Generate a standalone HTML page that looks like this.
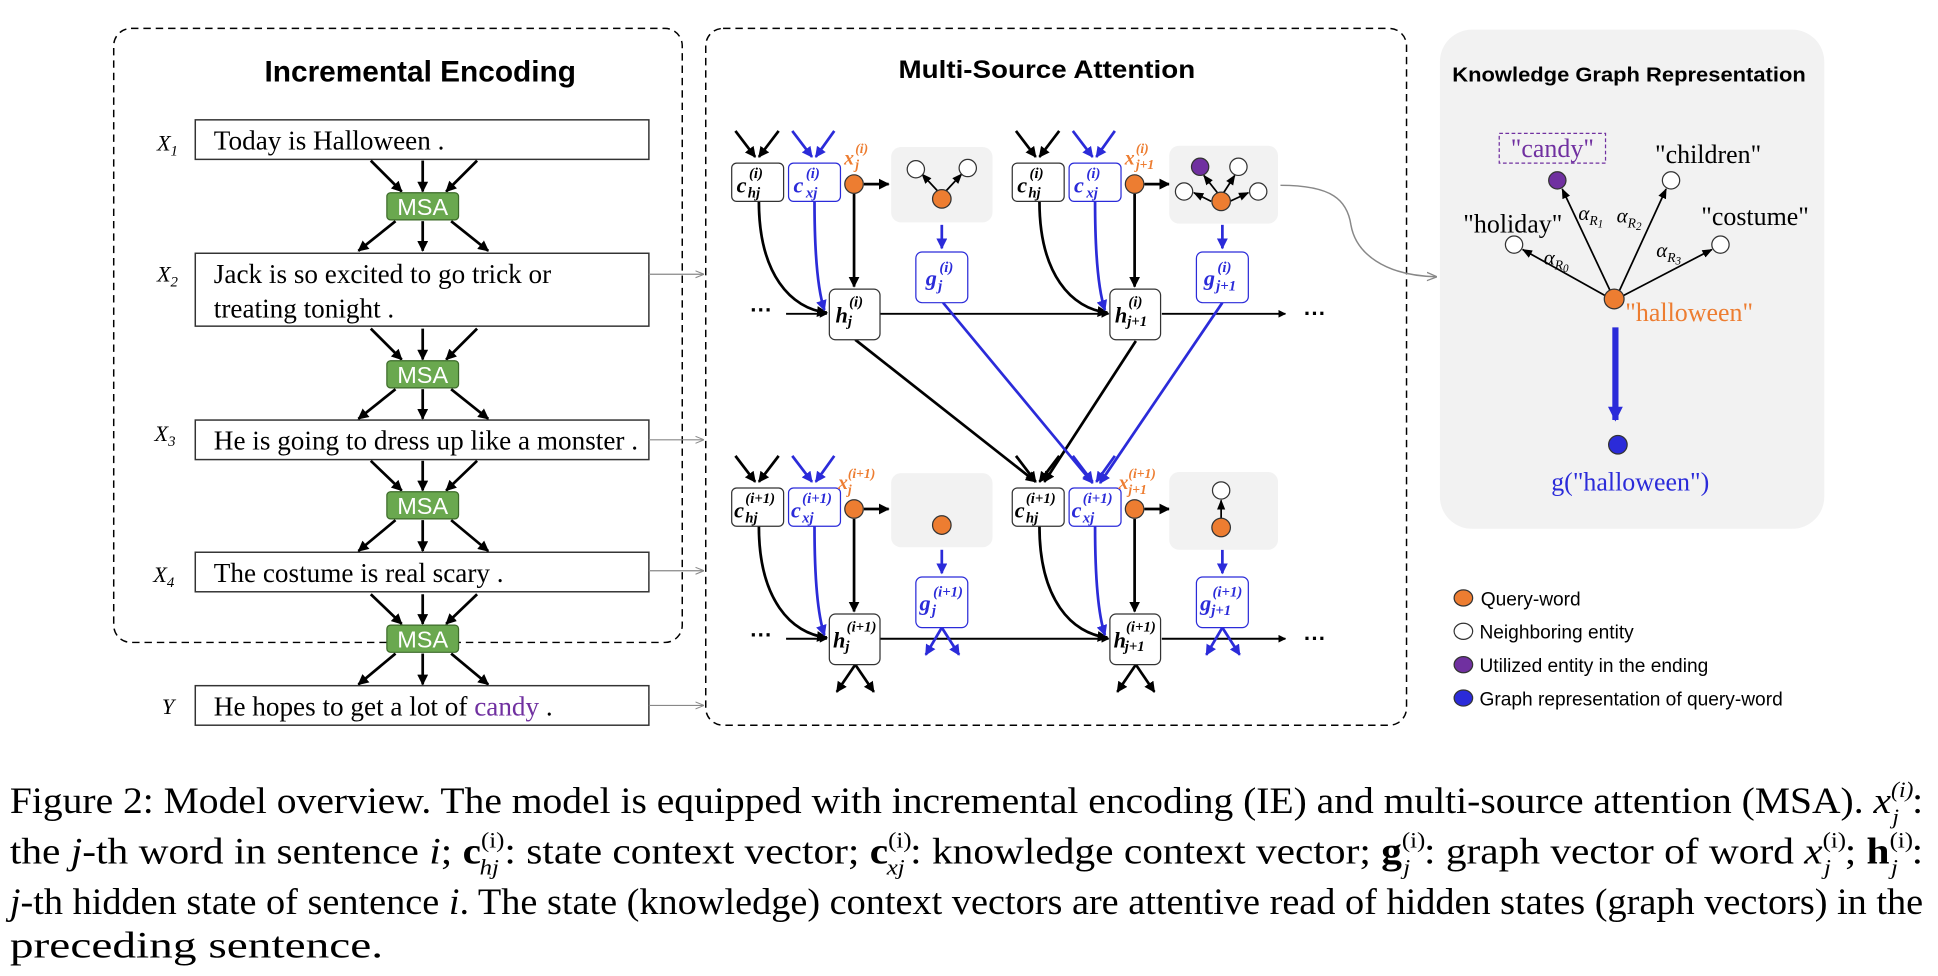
<!DOCTYPE html>
<html><head><meta charset="utf-8"><style>
html,body{margin:0;padding:0;background:#fff;}
svg{display:block;}
.serif{font-family:"Liberation Serif",serif;}
.sans{font-family:"Liberation Sans",sans-serif;}
</style></head><body>
<svg width="1938" height="976" viewBox="0 0 1568 790" preserveAspectRatio="none" xmlns="http://www.w3.org/2000/svg">
<defs>
<marker id="ab" viewBox="0 0 10 10" refX="9" refY="5" markerWidth="4" markerHeight="4" orient="auto"><path d="M0,0 L10,5 L0,10 z" fill="#000"/></marker>
<marker id="au" viewBox="0 0 10 10" refX="9" refY="5" markerWidth="4" markerHeight="4" orient="auto"><path d="M0,0 L10,5 L0,10 z" fill="#2b2bd9"/></marker>
<marker id="au2" viewBox="0 0 10 10" refX="9" refY="5" markerWidth="12" markerHeight="12" markerUnits="userSpaceOnUse" orient="auto"><path d="M0,0 L10,5 L0,10 z" fill="#2b2bd9"/></marker>
<marker id="ag" viewBox="0 0 10 10" refX="9" refY="5" markerWidth="7" markerHeight="7" orient="auto"><path d="M0,1 L10,5 L0,9" fill="none" stroke="#888" stroke-width="1.2"/></marker>
<marker id="at" viewBox="0 0 10 10" refX="9" refY="5" markerWidth="6" markerHeight="6" orient="auto"><path d="M0,1 L10,5 L0,9 z" fill="#000"/></marker>
</defs>

<rect x="92" y="23" width="460" height="497" rx="14" fill="none" stroke="#000" stroke-width="1.2" stroke-dasharray="6,4"/>
<text x="214" y="66" class="sans" font-weight="bold" font-size="24" textLength="252" lengthAdjust="spacingAndGlyphs">Incremental Encoding</text>

<g class="serif" font-size="22">
<rect x="158" y="97" width="367" height="32" fill="#fff" stroke="#333" stroke-width="1.2"/>
<text x="173" y="121">Today is Halloween .</text>
<rect x="158" y="205" width="367" height="59" fill="#fff" stroke="#333" stroke-width="1.2"/>
<text x="173" y="229">Jack is so excited to go trick or</text>
<text x="173" y="257">treating tonight .</text>
<rect x="158" y="340" width="367" height="32" fill="#fff" stroke="#333" stroke-width="1.2"/>
<text x="173" y="364">He is going to dress up like a monster .</text>
<rect x="158" y="447" width="367" height="32" fill="#fff" stroke="#333" stroke-width="1.2"/>
<text x="173" y="471">The costume is real scary .</text>
<rect x="158" y="555" width="367" height="32" fill="#fff" stroke="#333" stroke-width="1.2"/>
<text x="173" y="579">He hopes to get a lot of <tspan fill="#7030a0">candy</tspan> .</text>
</g>
<g class="serif" font-style="italic" font-size="18">
<text x="127" y="122">X<tspan font-size="12" dy="4">1</tspan></text>
<text x="127" y="228">X<tspan font-size="12" dy="4">2</tspan></text>
<text x="125" y="357">X<tspan font-size="12" dy="4">3</tspan></text>
<text x="124" y="471">X<tspan font-size="12" dy="4">4</tspan></text>
<text x="131" y="578">Y</text>
</g>

<g stroke="#000" stroke-width="2.2" fill="none" marker-end="url(#ab)">
<line x1="300" y1="130" x2="325" y2="155"/><line x1="342" y1="130" x2="342" y2="155"/><line x1="386" y1="130" x2="361" y2="155"/>
<line x1="320" y1="179" x2="290" y2="203"/><line x1="342" y1="179" x2="342" y2="203"/><line x1="365" y1="179" x2="395" y2="203"/>
<line x1="300" y1="266" x2="325" y2="291"/><line x1="342" y1="266" x2="342" y2="291"/><line x1="386" y1="266" x2="361" y2="291"/>
<line x1="320" y1="315" x2="290" y2="339"/><line x1="342" y1="315" x2="342" y2="339"/><line x1="365" y1="315" x2="395" y2="339"/>
<line x1="300" y1="373" x2="325" y2="397"/><line x1="342" y1="373" x2="342" y2="397"/><line x1="386" y1="373" x2="361" y2="397"/>
<line x1="320" y1="421" x2="290" y2="446"/><line x1="342" y1="421" x2="342" y2="446"/><line x1="365" y1="421" x2="395" y2="446"/>
<line x1="300" y1="481" x2="325" y2="505"/><line x1="342" y1="481" x2="342" y2="505"/><line x1="386" y1="481" x2="361" y2="505"/>
<line x1="320" y1="529" x2="290" y2="554"/><line x1="342" y1="529" x2="342" y2="554"/><line x1="365" y1="529" x2="395" y2="554"/>
</g>
<g class="sans" font-size="19" fill="#fff" text-anchor="middle">
<rect x="313" y="156" width="58" height="22" rx="3" fill="#6aa84f" stroke="#3d6b2a"/><text x="342" y="174">MSA</text>
<rect x="313" y="292" width="58" height="22" rx="3" fill="#6aa84f" stroke="#3d6b2a"/><text x="342" y="310">MSA</text>
<rect x="313" y="398" width="58" height="22" rx="3" fill="#6aa84f" stroke="#3d6b2a"/><text x="342" y="416">MSA</text>
<rect x="313" y="506" width="58" height="22" rx="3" fill="#6aa84f" stroke="#3d6b2a"/><text x="342" y="524">MSA</text>
</g>

<g stroke="#888" stroke-width="1" marker-end="url(#ag)">
<line x1="525" y1="222" x2="569" y2="222"/><line x1="525" y1="356" x2="569" y2="356"/>
<line x1="525" y1="462" x2="569" y2="462"/><line x1="525" y1="571" x2="569" y2="571"/>
</g>

<rect x="571" y="23" width="567" height="564" rx="14" fill="none" stroke="#000" stroke-width="1.2" stroke-dasharray="6,4"/>
<text x="727" y="63" class="sans" font-weight="bold" font-size="20" textLength="240" lengthAdjust="spacingAndGlyphs">Multi-Source Attention</text>

<g stroke="#000" stroke-width="1.6" marker-end="url(#ab)">
<line x1="636" y1="254" x2="669" y2="254"/><line x1="712" y1="254" x2="897" y2="254"/><line x1="940" y1="254" x2="1040" y2="254"/>
<line x1="636" y1="517" x2="669" y2="517"/><line x1="712" y1="517" x2="897" y2="517"/><line x1="940" y1="517" x2="1040" y2="517"/>
</g>
<g font-family="Liberation Sans" font-size="18" font-weight="bold">
<text x="607" y="257">···</text><text x="1055" y="260">···</text>
<text x="607" y="520">···</text><text x="1055" y="523">···</text>
</g>

<g stroke-width="2.2" fill="none">
<line x1="692" y1="275" x2="838" y2="390" stroke="#000" marker-end="url(#ab)"/>
<line x1="919" y1="276" x2="845" y2="390" stroke="#000" marker-end="url(#ab)"/>
<line x1="763" y1="245" x2="884" y2="391" stroke="#2b2bd9" marker-end="url(#au)"/>
<line x1="989" y1="245" x2="890" y2="391" stroke="#2b2bd9" marker-end="url(#au)"/>
</g>

<g>
<g transform="translate(0,0)">
 <g stroke="#000" stroke-width="2.2" marker-end="url(#ab)"><line x1="595" y1="106" x2="611" y2="127"/><line x1="630" y1="106" x2="614" y2="127"/><line x1="699" y1="149" x2="719" y2="149"/><line x1="691" y1="157" x2="691" y2="232"/></g>
 <g stroke="#2b2bd9" stroke-width="2.2" marker-end="url(#au)"><line x1="641" y1="106" x2="657" y2="127"/><line x1="675" y1="106" x2="660" y2="127"/><line x1="762" y1="182" x2="762" y2="201"/></g>
 <path d="M614,163 C614,222 640,250 669,253" fill="none" stroke="#000" stroke-width="2.2" marker-end="url(#ab)"/>
 <path d="M659,163 C659,210 662,236 667,251" fill="none" stroke="#2b2bd9" stroke-width="2.2" marker-end="url(#au)"/>
 <rect x="592" y="132" width="42" height="31" rx="4" fill="#fff" stroke="#333"/>
 <rect x="638" y="132" width="42" height="31" rx="4" fill="#fff" stroke="#2b2bd9"/>
 <rect x="721" y="119" width="82" height="61" rx="8" fill="#f2f2f2"/>
 <rect x="741" y="204" width="42" height="41" rx="5" fill="#fff" stroke="#2b2bd9"/>
 <rect x="671" y="234" width="41" height="41" rx="5" fill="#fff" stroke="#333"/>
 <circle cx="691" cy="149" r="7.5" fill="#ed7d31" stroke="#333"/>
</g>
<g transform="translate(227,0)">
 <g stroke="#000" stroke-width="2.2" marker-end="url(#ab)"><line x1="595" y1="106" x2="611" y2="127"/><line x1="630" y1="106" x2="614" y2="127"/><line x1="699" y1="149" x2="719" y2="149"/><line x1="691" y1="157" x2="691" y2="232"/></g>
 <g stroke="#2b2bd9" stroke-width="2.2" marker-end="url(#au)"><line x1="641" y1="106" x2="657" y2="127"/><line x1="675" y1="106" x2="660" y2="127"/><line x1="762" y1="182" x2="762" y2="201"/></g>
 <path d="M614,163 C614,222 640,250 669,253" fill="none" stroke="#000" stroke-width="2.2" marker-end="url(#ab)"/>
 <path d="M659,163 C659,210 662,236 667,251" fill="none" stroke="#2b2bd9" stroke-width="2.2" marker-end="url(#au)"/>
 <rect x="592" y="132" width="42" height="31" rx="4" fill="#fff" stroke="#333"/>
 <rect x="638" y="132" width="42" height="31" rx="4" fill="#fff" stroke="#2b2bd9"/>
 <rect x="719" y="118" width="88" height="63" rx="8" fill="#f2f2f2"/>
 <rect x="741" y="204" width="42" height="41" rx="5" fill="#fff" stroke="#2b2bd9"/>
 <rect x="671" y="234" width="41" height="41" rx="5" fill="#fff" stroke="#333"/>
 <circle cx="691" cy="149" r="7.5" fill="#ed7d31" stroke="#333"/>
</g>
<g transform="translate(0,263)">
 <g stroke="#000" stroke-width="2.2" marker-end="url(#ab)"><line x1="595" y1="106" x2="611" y2="127"/><line x1="630" y1="106" x2="614" y2="127"/><line x1="699" y1="149" x2="719" y2="149"/><line x1="691" y1="157" x2="691" y2="232"/><line x1="692" y1="275" x2="677" y2="297"/><line x1="692" y1="275" x2="707" y2="297"/></g>
 <g stroke="#2b2bd9" stroke-width="2.2" marker-end="url(#au)"><line x1="641" y1="106" x2="657" y2="127"/><line x1="675" y1="106" x2="660" y2="127"/><line x1="762" y1="182" x2="762" y2="201"/><line x1="762" y1="245" x2="749" y2="267"/><line x1="762" y1="245" x2="776" y2="267"/></g>
 <path d="M614,163 C614,222 640,250 669,253" fill="none" stroke="#000" stroke-width="2.2" marker-end="url(#ab)"/>
 <path d="M659,163 C659,210 662,236 667,251" fill="none" stroke="#2b2bd9" stroke-width="2.2" marker-end="url(#au)"/>
 <rect x="592" y="132" width="42" height="31" rx="4" fill="#fff" stroke="#333"/>
 <rect x="638" y="132" width="42" height="31" rx="4" fill="#fff" stroke="#2b2bd9"/>
 <rect x="721" y="120" width="82" height="60" rx="8" fill="#f2f2f2"/>
 <rect x="741" y="204" width="42" height="41" rx="5" fill="#fff" stroke="#2b2bd9"/>
 <rect x="671" y="234" width="41" height="41" rx="5" fill="#fff" stroke="#333"/>
 <circle cx="691" cy="149" r="7.5" fill="#ed7d31" stroke="#333"/>
</g>
<g transform="translate(227,263)">
 <g stroke="#000" stroke-width="2.2" marker-end="url(#ab)"><line x1="595" y1="106" x2="611" y2="127"/><line x1="630" y1="106" x2="614" y2="127"/><line x1="699" y1="149" x2="719" y2="149"/><line x1="691" y1="157" x2="691" y2="232"/><line x1="692" y1="275" x2="677" y2="297"/><line x1="692" y1="275" x2="707" y2="297"/></g>
 <g stroke="#2b2bd9" stroke-width="2.2" marker-end="url(#au)"><line x1="641" y1="106" x2="657" y2="127"/><line x1="675" y1="106" x2="660" y2="127"/><line x1="762" y1="182" x2="762" y2="201"/><line x1="762" y1="245" x2="749" y2="267"/><line x1="762" y1="245" x2="776" y2="267"/></g>
 <path d="M614,163 C614,222 640,250 669,253" fill="none" stroke="#000" stroke-width="2.2" marker-end="url(#ab)"/>
 <path d="M659,163 C659,210 662,236 667,251" fill="none" stroke="#2b2bd9" stroke-width="2.2" marker-end="url(#au)"/>
 <rect x="592" y="132" width="42" height="31" rx="4" fill="#fff" stroke="#333"/>
 <rect x="638" y="132" width="42" height="31" rx="4" fill="#fff" stroke="#2b2bd9"/>
 <rect x="719" y="119" width="88" height="63" rx="8" fill="#f2f2f2"/>
 <rect x="741" y="204" width="42" height="41" rx="5" fill="#fff" stroke="#2b2bd9"/>
 <rect x="671" y="234" width="41" height="41" rx="5" fill="#fff" stroke="#333"/>
 <circle cx="691" cy="149" r="7.5" fill="#ed7d31" stroke="#333"/>
</g>
</g>

<g stroke="#000" stroke-width="1.4" marker-end="url(#at)">
<line x1="759" y1="155" x2="746" y2="141"/><line x1="765" y1="155" x2="778" y2="141"/>
<line x1="985" y1="156" x2="974" y2="142"/><line x1="990" y1="156" x2="999" y2="142"/>
<line x1="980" y1="163" x2="966" y2="156"/><line x1="995" y1="163" x2="1010" y2="156"/>
<line x1="988" y1="420" x2="988" y2="405"/>
</g>
<g stroke="#333" stroke-width="1">
<circle cx="741" cy="137" r="7" fill="#fff"/><circle cx="783" cy="136" r="7" fill="#fff"/><circle cx="762" cy="161" r="7.5" fill="#ed7d31"/>
<circle cx="971" cy="135" r="7" fill="#7030a0"/><circle cx="1002" cy="135" r="7" fill="#fff"/>
<circle cx="958" cy="155" r="7" fill="#fff"/><circle cx="1018" cy="155" r="7" fill="#fff"/><circle cx="988" cy="163" r="7.5" fill="#ed7d31"/>
<circle cx="762" cy="425" r="7.5" fill="#ed7d31"/>
<circle cx="988" cy="397" r="7" fill="#fff"/><circle cx="988" cy="427" r="7.5" fill="#ed7d31"/>
</g>

<g class="serif" font-weight="bold" font-style="italic">
<g font-size="18" fill="#000">
<text x="596" y="156">c</text><text x="823" y="156">c</text>
<text x="594" y="419">c</text><text x="821" y="419">c</text>
<text x="676" y="261">h</text><text x="902" y="261">h</text>
<text x="674" y="524">h</text><text x="901" y="524">h</text>
</g>
<g font-size="12" fill="#000">
<text x="606" y="144">(i)</text><text x="605" y="160">hj</text>
<text x="833" y="144">(i)</text><text x="832" y="160">hj</text>
<text x="603" y="407">(i+1)</text><text x="603" y="423">hj</text>
<text x="830" y="407">(i+1)</text><text x="830" y="423">hj</text>
<text x="687" y="248">(i)</text><text x="686" y="264">j</text>
<text x="913" y="248">(i)</text><text x="912" y="264">j+1</text>
<text x="685" y="511">(i+1)</text><text x="684" y="527">j</text>
<text x="911" y="511">(i+1)</text><text x="910" y="527">j+1</text>
</g>
<g font-size="18" fill="#2b2bd9">
<text x="642" y="156">c</text><text x="869" y="156">c</text>
<text x="640" y="419">c</text><text x="867" y="419">c</text>
<text x="749" y="231">g</text><text x="974" y="231">g</text>
<text x="744" y="494">g</text><text x="971" y="494">g</text>
</g>
<g font-size="12" fill="#2b2bd9">
<text x="652" y="144">(i)</text><text x="652" y="160">xj</text>
<text x="649" y="407">(i+1)</text><text x="649" y="423">xj</text>
<text x="879" y="144">(i)</text><text x="879" y="160">xj</text>
<text x="876" y="407">(i+1)</text><text x="876" y="423">xj</text>
<text x="760" y="220">(i)</text><text x="759" y="235">j</text>
<text x="985" y="220">(i)</text><text x="984" y="235">j+1</text>
<text x="755" y="483">(i+1)</text><text x="754" y="498">j</text>
<text x="981" y="483">(i+1)</text><text x="980" y="498">j+1</text>
</g>
<g fill="#ed7d31">
<text x="683" y="133" font-size="16">x</text><text x="692" y="124" font-size="11">(i)</text><text x="692" y="137" font-size="11">j</text>
<text x="910" y="133" font-size="16">x</text><text x="919" y="124" font-size="11">(i)</text><text x="919" y="137" font-size="11">j+1</text>
<text x="678" y="396" font-size="16">x</text><text x="686" y="387" font-size="11">(i+1)</text><text x="686" y="400" font-size="11">j</text>
<text x="905" y="396" font-size="16">x</text><text x="913" y="387" font-size="11">(i+1)</text><text x="913" y="400" font-size="11">j+1</text>
</g>
</g>

<path d="M1036,150 C1078,150 1090,162 1093,182 C1097,205 1120,223 1162,224" fill="none" stroke="#888" stroke-width="1.2" marker-end="url(#ag)"/>

<rect x="1165" y="24" width="311" height="404" rx="26" fill="#f2f2f2"/>
<text x="1175" y="66" class="sans" font-weight="bold" font-size="16.5" textLength="286" lengthAdjust="spacingAndGlyphs">Knowledge Graph Representation</text>
<rect x="1213" y="108" width="86" height="24" fill="none" stroke="#7030a0" stroke-width="1" stroke-dasharray="3,2"/>
<g class="serif" font-size="21">
<text x="1256" y="127" text-anchor="middle" fill="#7030a0">"candy"</text>
<text x="1382" y="132" text-anchor="middle">"children"</text>
<text x="1224" y="188" text-anchor="middle">"holiday"</text>
<text x="1420" y="182" text-anchor="middle">"costume"</text>
<text x="1315" y="260" fill="#ed7d31">"halloween"</text>
<text x="1319" y="397" text-anchor="middle" fill="#2b2bd9">g("halloween")</text>
</g>
<g stroke="#000" stroke-width="1.4" marker-end="url(#at)">
<line x1="1304" y1="238" x2="1264" y2="153"/>
<line x1="1309" y1="238" x2="1348" y2="153"/>
<line x1="1300" y1="240" x2="1232" y2="202"/>
<line x1="1312" y1="240" x2="1385" y2="202"/>
</g>
<g stroke="#333" stroke-width="1">
<circle cx="1260" cy="146" r="7" fill="#7030a0"/>
<circle cx="1352" cy="146" r="7" fill="#fff"/>
<circle cx="1225" cy="198" r="7" fill="#fff"/>
<circle cx="1392" cy="198" r="7" fill="#fff"/>
<circle cx="1306" cy="242" r="8" fill="#ed7d31"/>
<circle cx="1309" cy="360" r="7.5" fill="#2b2bd9"/>
</g>
<line x1="1307" y1="265" x2="1307" y2="340" stroke="#2b2bd9" stroke-width="5" marker-end="url(#au2)"/>
<g class="serif" font-style="italic" font-size="17">
<text x="1277" y="178">α<tspan font-size="11" dy="4">R</tspan><tspan font-size="9" dy="2">1</tspan></text>
<text x="1308" y="180">α<tspan font-size="11" dy="4">R</tspan><tspan font-size="9" dy="2">2</tspan></text>
<text x="1249" y="214">α<tspan font-size="11" dy="4">R</tspan><tspan font-size="9" dy="2">0</tspan></text>
<text x="1340" y="208">α<tspan font-size="11" dy="4">R</tspan><tspan font-size="9" dy="2">3</tspan></text>
</g>

<g stroke="#333" stroke-width="1">
<ellipse cx="1184" cy="484" rx="7.5" ry="6.5" fill="#ed7d31"/>
<ellipse cx="1184" cy="511" rx="7.5" ry="6.5" fill="#fff"/>
<ellipse cx="1184" cy="538" rx="7.5" ry="6.5" fill="#7030a0"/>
<ellipse cx="1184" cy="565" rx="7.5" ry="6.5" fill="#2b2bd9"/>
</g>
<g class="sans" font-size="15.5">
<text x="1198" y="490">Query-word</text>
<text x="1197" y="517">Neighboring entity</text>
<text x="1197" y="544">Utilized entity in the ending</text>
<text x="1197" y="571">Graph representation of query-word</text>
</g>

<g class="serif" font-size="30">
<text x="8" y="658" textLength="1548" lengthAdjust="spacingAndGlyphs">Figure 2: Model overview. The model is equipped with incremental encoding (IE) and multi-source attention (MSA). <tspan font-style="italic">x</tspan><tspan font-size="18" dy="-13" font-style="italic">(i)</tspan><tspan font-size="18" dx="-16" dy="22" font-style="italic">j</tspan><tspan dy="-9" dx="10">:</tspan></text>
<text x="8" y="699" textLength="1548" lengthAdjust="spacingAndGlyphs">the <tspan font-style="italic">j</tspan>-th word in sentence <tspan font-style="italic">i</tspan>; <tspan font-weight="bold">c</tspan><tspan font-size="18" dy="-13">(i)</tspan><tspan font-size="18" dx="-18" dy="22" font-style="italic">hj</tspan><tspan dy="-9" dx="4">: state context vector; </tspan><tspan font-weight="bold">c</tspan><tspan font-size="18" dy="-13">(i)</tspan><tspan font-size="18" dx="-18" dy="22" font-style="italic">xj</tspan><tspan dy="-9" dx="4">: knowledge context vector; </tspan><tspan font-weight="bold">g</tspan><tspan font-size="18" dy="-13">(i)</tspan><tspan font-size="18" dx="-16" dy="22" font-style="italic">j</tspan><tspan dy="-9" dx="10">: graph vector of word </tspan><tspan font-style="italic">x</tspan><tspan font-size="18" dy="-13">(i)</tspan><tspan font-size="18" dx="-16" dy="22" font-style="italic">j</tspan><tspan dy="-9" dx="10">; </tspan><tspan font-weight="bold">h</tspan><tspan font-size="18" dy="-13">(i)</tspan><tspan font-size="18" dx="-16" dy="22" font-style="italic">j</tspan><tspan dy="-9" dx="10">:</tspan></text>
<text x="8" y="740" textLength="1548" lengthAdjust="spacingAndGlyphs"><tspan font-style="italic">j</tspan>-th hidden state of sentence <tspan font-style="italic">i</tspan>. The state (knowledge) context vectors are attentive read of hidden states (graph vectors) in the</text>
<text x="8" y="775" textLength="302" lengthAdjust="spacingAndGlyphs">preceding sentence.</text>
</g>
</svg>
</body></html>
